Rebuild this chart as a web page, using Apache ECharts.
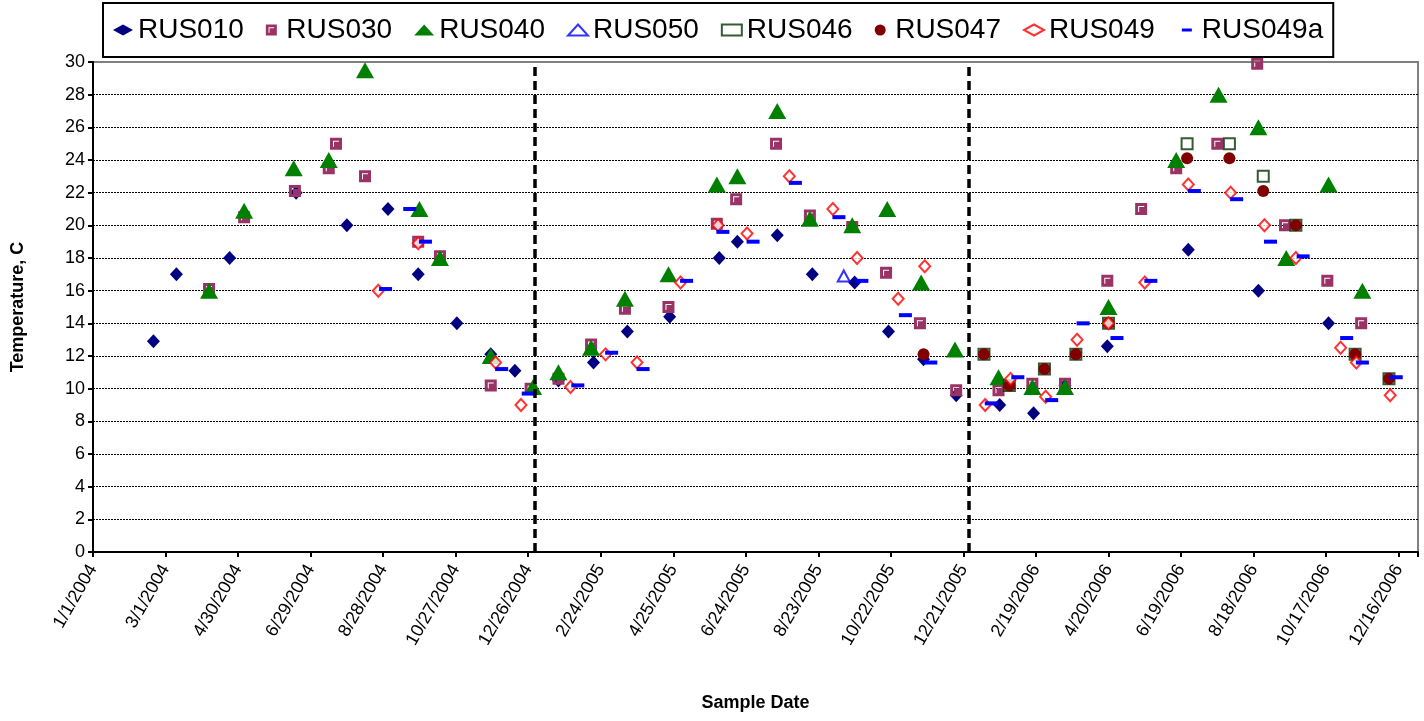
<!DOCTYPE html>
<html>
<head>
<meta charset="utf-8">
<title>Temperature by sample date</title>
<script src="https://cdn.jsdelivr.net/npm/echarts@6/dist/echarts.min.js"></script>
<style>
  html, body { margin: 0; padding: 0; background: #fff; }
  #chart { width: 1424px; height: 721px; }
</style>
</head>
<body>
<div id="chart"></div>
<script>
// x = days since 1/1/2004, y = temperature (C)
const rus010 = [
  [50, 12.9], [69, 17], [113, 18], [168, 22], [210, 20], [244, 21], [269, 17], [301, 14], [329, 12.1], [349, 11.1],
  [385, 10.5], [414, 11.6], [442, 13.5], [477, 14.4], [518, 18], [533, 19], [566, 19.4], [595, 17], [630, 16.5], [658, 13.5], [687, 11.8], [714, 9.6],
  [750, 9], [778, 8.5], [804, 10.2], [839, 12.6], [906, 18.5], [964, 16], [1022, 14]
]
const rus030 = [
  [96, 16.1], [125, 20.5], [167, 22.1], [195, 23.5], [201, 25], [225, 23], [269, 19], [287, 18.1], [329, 10.2], [362, 10],
  [385, 10.6], [412, 12.7], [440, 14.9], [476, 15], [516, 20.1], [532, 21.6], [565, 25], [593, 20.6], [628, 19.9], [656, 17.1], [684, 14], [714, 9.9],
  [749, 9.9], [777, 10.3], [804, 10.3], [839, 16.6], [867, 21], [896, 23.5], [930, 25], [963, 29.9], [986, 20], [1021, 16.6], [1049, 14]
]
const rus040 = [
  [96, 16], [125, 20.9], [166, 23.5], [195, 24], [225, 29.5], [270, 21], [287, 18], [329, 12], [364, 10.1],
  [385, 11], [412, 12.5], [440, 15.5], [476, 17], [516, 22.5], [533, 23], [566, 27], [593, 20.4], [628, 20], [657, 21], [685, 16.5], [713, 12.4],
  [749, 10.7], [777, 10.1], [804, 10.1], [840, 15], [896, 24], [931, 28], [964, 26], [987, 18], [1022, 22.5], [1050, 16]
]
const rus050 = [[621, 16.9]]
const rus046 = [
  [737, 12.1], [758, 10.2], [787, 11.2], [813, 12.1], [840, 14], [905, 25], [940, 25], [968, 23], [995, 20], [1044, 12.1], [1072, 10.6]
]
const rus047 = [
  [687, 12.1], [737, 12.1], [758, 10.2], [787, 11.2], [813, 12.1], [840, 14], [905, 24.1], [940, 24.1], [968, 22.1], [995, 20], [1044, 12.1], [1072, 10.6]
]
const rus049 = [
  [236, 16], [269, 18.9], [333, 11.6], [354, 9],
  [395, 10.1], [424, 12.1], [450, 11.6], [486, 16.5], [517, 20], [541, 19.5], [576, 23], [612, 21], [632, 18], [666, 15.5], [688, 17.5],
  [738, 9], [759, 10.6], [788, 9.5], [814, 13], [840, 14], [870, 16.5], [906, 22.5], [941, 22], [969, 20], [995, 18], [1032, 12.5], [1045, 11.6], [1073, 9.6]
]
const rus049a = [
  [242, 16.1], [262, 21], [275, 19], [338, 11.2], [360, 9.7],
  [401, 10.2], [429, 12.2], [455, 11.2], [491, 16.6], [521, 19.6], [546, 19], [581, 22.6], [617, 20.5], [636, 16.6], [672, 14.5], [693, 11.6],
  [743, 9.1], [765, 10.7], [793, 9.3], [819, 14], [847, 13.1], [875, 16.6], [911, 22.1], [946, 21.6], [974, 19], [1001, 18.1], [1037, 13.1], [1050, 11.6], [1078, 10.7]
]
// year separators (days since 1/1/2004)
const separators = [365, 724]

const FONT = 'Liberation Sans, Arial, sans-serif'
const DAY = 86400000
const START = Date.UTC(2004, 0, 1)

function dateLabel(d) {
  if (d > 1080) return ''
  const t = new Date(START + d * DAY)
  return (t.getUTCMonth() + 1) + '/' + t.getUTCDate() + '/' + t.getUTCFullYear()
}

// square with a small white corner mark, like the Excel marker
const squareMark = 'path://M0,0H12V12H0Z M3,3V9H4V4H9V3Z'
// short dash for the legend, padded so it is not stretched
const dashIcon = 'path://M0,0L0,0M5,4H15V7H5ZM20,11L20,11'

function scatter(name, data, symbol, size, color, empty) {
  return {
    type: 'scatter',
    name: name,
    data: data,
    symbol: symbol,
    symbolSize: size,
    itemStyle: empty
      ? { color: color, borderColor: color, borderWidth: 2 }
      : { color: color, opacity: 1 },
    emphasis: { disabled: true }
  }
}

const chart = echarts.init(document.getElementById('chart'))

const series = [
  scatter('RUS010', rus010, 'diamond', [13, 14], '#000080'),
  scatter('RUS030', rus030, squareMark, 12, '#993366'),
  scatter('RUS040', rus040, 'triangle', [18, 16], '#008000'),
  scatter('RUS050', rus050, 'emptyTriangle', [12, 11], '#0000ff', true),
  scatter('RUS046', rus046, 'emptyRect', 11, '#003300', true),
  scatter('RUS047', rus047, 'circle', 12, '#800000'),
  scatter('RUS049', rus049, 'emptyDiamond', [11, 12], '#ff0000', true),
  scatter('RUS049a', rus049a, 'rect', [13, 4], '#0000ff')
]

series[series.length - 1].markLine = {
  silent: true,
  symbol: 'none',
  label: { show: false },
  lineStyle: { color: '#000', width: 3.5, type: [9, 5] },
  data: separators.map(d => ({ xAxis: d }))
}

chart.setOption({
  backgroundColor: '#fff',
  animation: false,
  textStyle: { fontFamily: FONT },
  legend: {
    left: 103,
    top: 3,
    padding: [13, 10, 13, 10],
    borderColor: '#000',
    borderWidth: 2,
    backgroundColor: '#fff',
    itemWidth: 20,
    itemHeight: 11,
    itemGap: 22,
    textStyle: { fontSize: 28, color: '#000', fontFamily: FONT },
    data: [
      'RUS010', 'RUS030', 'RUS040', 'RUS050', 'RUS046', 'RUS047', 'RUS049',
      { name: 'RUS049a', icon: dashIcon }
    ]
  },
  grid: {
    left: 93,
    right: 6,
    top: 62,
    bottom: 169,
    show: true,
    borderColor: '#808080',
    borderWidth: 2
  },
  xAxis: {
    type: 'value',
    min: 0,
    max: 1096,
    interval: 60,
    name: 'Sample Date',
    nameLocation: 'middle',
    nameGap: 142,
    nameTextStyle: { fontSize: 18, fontWeight: 'bold', color: '#000', fontFamily: FONT },
    axisLine: { lineStyle: { color: '#000', width: 2 } },
    axisTick: { show: true, length: 5, lineStyle: { color: '#000', width: 2 } },
    axisLabel: { rotate: 60, fontSize: 18, color: '#000', margin: 14, formatter: dateLabel },
    splitLine: { show: false }
  },
  yAxis: {
    type: 'value',
    min: 0,
    max: 30,
    interval: 2,
    name: 'Temperature, C',
    nameLocation: 'middle',
    nameGap: 66,
    nameTextStyle: { fontSize: 18, fontWeight: 'bold', color: '#000', fontFamily: FONT },
    axisLine: { show: true, lineStyle: { color: '#000', width: 2 } },
    axisTick: { show: true, length: 5, lineStyle: { color: '#000', width: 2 } },
    axisLabel: { fontSize: 18, color: '#000', margin: 8 },
    splitLine: {
      show: true,
      showMinLine: false,
      showMaxLine: false,
      lineStyle: { color: '#000', width: 1, type: [2, 1] }
    }
  },
  series: series
})

window.addEventListener('resize', () => chart.resize())
</script>
</body>
</html>
